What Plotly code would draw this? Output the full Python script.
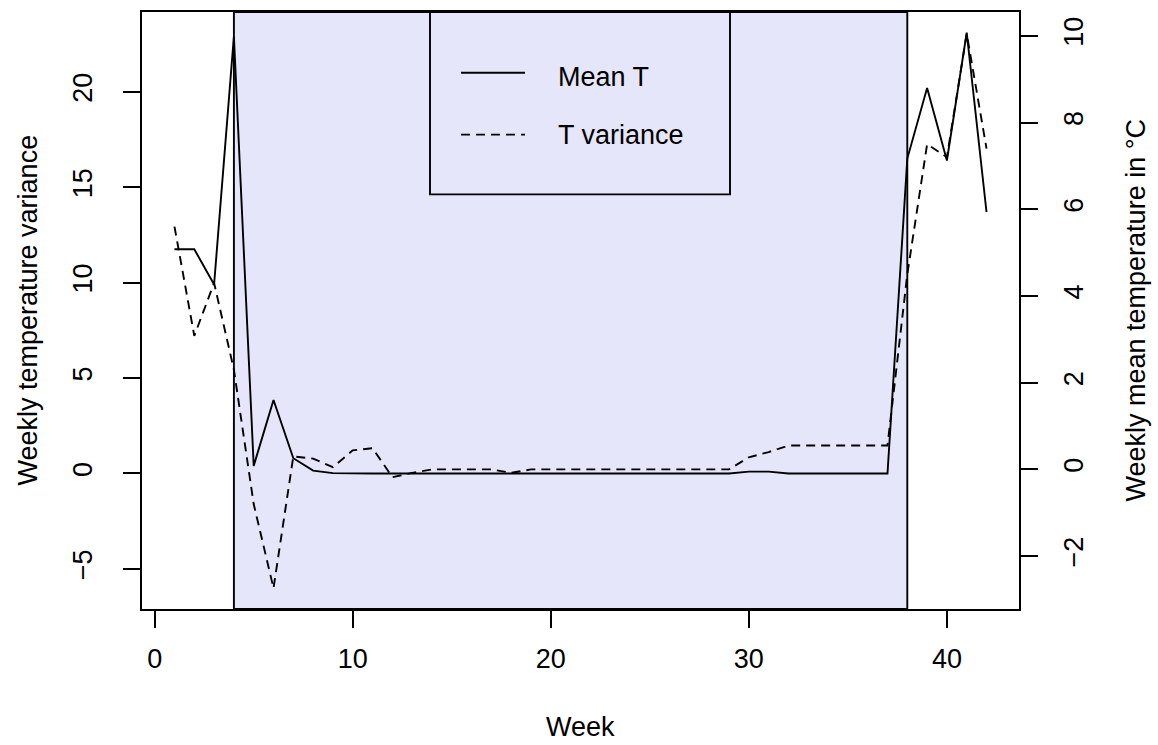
import plotly.graph_objects as go

# ---- data ----
weeks = list(range(1, 43))
# solid line, plotted against the left axis
series_solid = [11.75, 11.75, 9.9, 22.9, 0.4, 3.85, 0.8, 0.15, 0.02, 0.0,
                0.0, 0.0, 0.0, 0.0, 0.0, 0.0, 0.0, 0.0, 0.0, 0.0,
                0.0, 0.0, 0.0, 0.0, 0.0, 0.0, 0.0, 0.0, 0.0, 0.1,
                0.1, 0.0, 0.0, 0.0, 0.0, 0.0, 0.0, 16.5, 20.2, 16.4,
                23.1, 13.7]
# dashed line, plotted against the right axis
series_dashed = [5.6, 3.08, 4.3, 2.3, -0.8, -2.74, 0.3, 0.25, 0.05, 0.44,
                 0.49, -0.18, -0.08, 0.0, 0.0, 0.0, 0.0, -0.08, 0.0, 0.0,
                 0.0, 0.0, 0.0, 0.0, 0.0, 0.0, 0.0, 0.0, 0.0, 0.28,
                 0.4, 0.55, 0.55, 0.55, 0.55, 0.55, 0.55, 4.5, 7.5, 7.2,
                 10.05, 7.4]
legend_labels = ["Mean T", "T variance"]
shade_start, shade_end = 4, 38
x_ticks = [0, 10, 20, 30, 40]
left_ticks = [-5, 0, 5, 10, 15, 20]
right_ticks = [-2, 0, 2, 4, 6, 8, 10]

FONT = "Liberation Sans, Arial, sans-serif"
FS = 27
LW = 1.9
BLACK = "#000000"
LAV = "#E6E6FA"

W, H = 1158, 745
L, R, T, B = 142, 139, 10, 136
pw, ph = W - L - R, H - T - B

def px_x(px):
    return (px - L) / pw

def px_y(py):
    return (H - B - py) / ph

fig = go.Figure()
fig.add_trace(go.Scatter(x=weeks, y=series_solid, mode="lines",
                         line=dict(color=BLACK, width=LW), showlegend=False,
                         hoverinfo="skip", yaxis="y"))
fig.add_trace(go.Scatter(x=weeks, y=series_dashed, mode="lines",
                         line=dict(color=BLACK, width=LW, dash="9px,6px"),
                         showlegend=False, hoverinfo="skip", yaxis="y2"))

shapes = [
    dict(type="rect", xref="x", yref="paper", x0=shade_start, x1=shade_end,
         y0=0, y1=1, fillcolor=LAV, line=dict(color=BLACK, width=LW),
         layer="below"),
    # legend box
    dict(type="rect", xref="paper", yref="paper", x0=px_x(430), x1=px_x(730),
         y0=px_y(193), y1=1, fillcolor=LAV, line=dict(color=BLACK, width=LW),
         layer="above"),
    dict(type="line", xref="paper", yref="paper", x0=px_x(461), x1=px_x(525),
         y0=px_y(71), y1=px_y(71), line=dict(color=BLACK, width=LW)),
    dict(type="line", xref="paper", yref="paper", x0=px_x(461), x1=px_x(525),
         y0=px_y(133), y1=px_y(133),
         line=dict(color=BLACK, width=LW, dash="9px,6px")),
]

annotations = [
    dict(text=legend_labels[0], xref="paper", yref="paper", x=px_x(556),
         y=px_y(75), xanchor="left", yanchor="middle", showarrow=False,
         font=dict(family=FONT, size=FS, color=BLACK)),
    dict(text=legend_labels[1], xref="paper", yref="paper", x=px_x(556),
         y=px_y(133), xanchor="left", yanchor="middle", showarrow=False,
         font=dict(family=FONT, size=FS, color=BLACK)),
    dict(text="Week", xref="paper", yref="paper", x=0.5, y=0,
         xanchor="center", yanchor="middle", yshift=-(727 - (H - B)),
         showarrow=False, font=dict(family=FONT, size=FS, color=BLACK)),
    dict(text="Weekly temperature variance", xref="paper", yref="paper",
         x=0, y=0.5, xanchor="center", yanchor="middle", xshift=27 - L,
         textangle=-90, showarrow=False,
         font=dict(family=FONT, size=FS, color=BLACK)),
    dict(text="Weekly mean temperature in °C", xref="paper", yref="paper",
         x=1, y=0.5, xanchor="center", yanchor="middle", xshift=1135 - (W - R),
         textangle=-90, showarrow=False,
         font=dict(family=FONT, size=FS, color=BLACK)),
]

axis_common = dict(showgrid=False, zeroline=False, showline=True,
                   linecolor=BLACK, linewidth=LW, ticks="outside",
                   ticklen=17, tickwidth=LW, tickcolor=BLACK,
                   tickfont=dict(family=FONT, size=FS, color=BLACK))

fig.update_layout(
    width=W, height=H,
    margin=dict(l=L, r=R, t=T, b=B, pad=0),
    paper_bgcolor="white", plot_bgcolor="white",
    showlegend=False,
    hovermode=False,
    xaxis=dict(range=[-0.64, 43.64], tickvals=x_ticks, mirror=True,
               ticklabelstandoff=8, **axis_common),
    yaxis=dict(range=[-7.10, 24.18], tickvals=left_ticks, mirror=True,
               tickangle=-90, ticklabelstandoff=20, **axis_common),
    yaxis2=dict(range=[-3.22, 10.55], tickvals=right_ticks, overlaying="y",
                side="right", tickangle=-90, ticklabelstandoff=13,
                **axis_common),
    shapes=shapes,
    annotations=annotations,
)

fig.write_html("out.html",
               config={"displayModeBar": False},
               post_script="document.body.style.margin='0px';")
